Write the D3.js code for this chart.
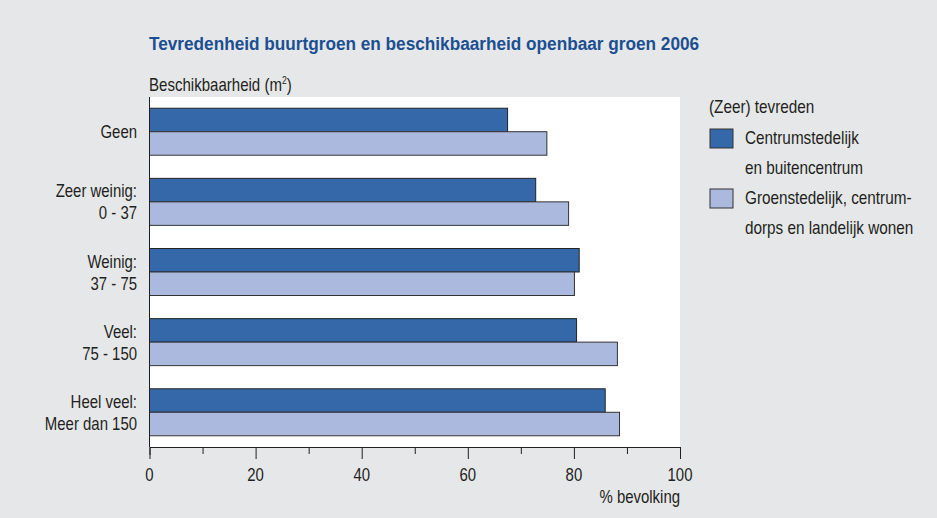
<!DOCTYPE html>
<html>
<head>
<meta charset="utf-8">
<script src="https://cdn.jsdelivr.net/npm/d3@7"></script>
<style>
  body { margin: 0; background: #e6e7e9; }
  svg text { font-family: "Liberation Sans", Arial, sans-serif; fill: #231f20; }
</style>
</head>
<body>
<svg id="chart" width="937" height="518"></svg>
<script>
// categories (label lines) and series values
const categories = ["Geen", "Zeer weinig", "Weinig", "Veel", "Heel veel"];
const categoryLines = [
    ["Geen"],
    ["Zeer weinig:", "0 - 37"],
    ["Weinig:", "37 - 75"],
    ["Veel:", "75 - 150"],
    ["Heel veel:", "Meer dan 150"]
];
const centrum = [67.5, 72.8, 81.0, 80.5, 85.9];
const groen = [74.9, 79.0, 80.1, 88.2, 88.6];
const seriesNames = ["Centrumstedelijk", "Groenstedelijk"];
const xTicks = [0, 20, 40, 60, 80, 100];

const colors = { dark: "#3568a9", light: "#abb9df" };

const svg = d3.select("#chart");
svg.append("rect").attr("width", 937).attr("height", 518).attr("fill", "#e6e7e9");

const plot = { left: 149.5, right: 680, top: 97, bottom: 447 };

const x = d3.scaleLinear().domain([0, 100]).range([plot.left, plot.right]);
const y = d3.scaleBand().domain(categories).range([plot.top, plot.bottom]).paddingInner(0.33).paddingOuter(0.16);
const ySub = d3.scaleBand().domain(seriesNames).range([0, y.bandwidth()]);

// narrow-looking text: scale Liberation Sans horizontally
function addText(parent, tx, ty, str, size, sx, anchor) {
    const g = parent.append("g").attr("transform", `translate(${tx},${ty}) scale(${sx},1)`);
    return g.append("text")
        .attr("text-anchor", anchor || "start")
        .style("font-size", size + "px")
        .text(str);
}

// title
addText(svg, 149, 50, "Tevredenheid buurtgroen en beschikbaarheid openbaar groen 2006", 19, 0.906)
    .style("font-weight", "bold").style("fill", "#1b4f91");

const sub = addText(svg, 149, 91, "", 17.5, 0.86);
sub.append("tspan").text("Beschikbaarheid (m");
sub.append("tspan").attr("dy", -7).style("font-size", "10px").text("2");
sub.append("tspan").attr("dy", 7).text(")");

// plot area
svg.append("rect")
    .attr("x", plot.left).attr("y", plot.top)
    .attr("width", plot.right - plot.left).attr("height", plot.bottom - plot.top)
    .attr("fill", "#fff");

// bars
const groups = svg.append("g").selectAll("g")
    .data(categories)
    .join("g")
    .attr("transform", d => `translate(0,${y(d)})`);

groups.append("rect")
    .attr("x", x(0))
    .attr("y", ySub("Centrumstedelijk"))
    .attr("width", (d, i) => x(centrum[i]) - x(0))
    .attr("height", ySub.bandwidth())
    .attr("fill", colors.dark)
    .attr("stroke", "#222").attr("stroke-width", 1);

groups.append("rect")
    .attr("x", x(0))
    .attr("y", ySub("Groenstedelijk"))
    .attr("width", (d, i) => x(groen[i]) - x(0))
    .attr("height", ySub.bandwidth())
    .attr("fill", colors.light)
    .attr("stroke", "#333").attr("stroke-width", 1);

// category labels
groups.each(function(d, i) {
    const lines = categoryLines[i];
    const mid = y.bandwidth() / 2;
    lines.forEach((line, j) => {
        addText(d3.select(this), 137, mid + 6.5 + (j - (lines.length - 1) / 2) * 22, line, 18, 0.83, "end");
    });
});

// y axis line
svg.append("line")
    .attr("x1", plot.left).attr("x2", plot.left).attr("y1", plot.top).attr("y2", plot.bottom)
    .attr("stroke", "#231f20").attr("stroke-width", 1);

// x axis
const xAxis = svg.append("g").attr("transform", `translate(0,${plot.bottom})`);
xAxis.call(d3.axisBottom(x).tickValues(d3.range(0, 101, 10)).tickSize(8).tickFormat(""));
xAxis.select(".domain").attr("stroke", "#231f20");
xAxis.selectAll(".tick line")
    .attr("stroke", "#231f20")
    .attr("y2", d => d % 20 === 0 ? 12 : 7);

xTicks.forEach(t => addText(xAxis, x(t), 34, t, 18, 0.83, "middle"));

addText(svg, plot.right, 503, "% bevolking", 18, 0.83, "end");

// legend
const legend = svg.append("g");
addText(legend, 709, 113, "(Zeer) tevreden", 18, 0.85);
const legendItems = [
    { color: colors.dark, lines: ["Centrumstedelijk", "en buitencentrum"] },
    { color: colors.light, lines: ["Groenstedelijk, centrum-", "dorps en landelijk wonen"] }
];
legendItems.forEach((item, i) => {
    const y0 = 129 + i * 60;
    legend.append("rect")
        .attr("x", 710).attr("y", y0)
        .attr("width", 23).attr("height", 19)
        .attr("fill", item.color).attr("stroke", "#333");
    item.lines.forEach((line, j) => {
        addText(legend, 745, y0 + 15 + j * 30, line, 18, 0.85);
    });
});
</script>
</body>
</html>
